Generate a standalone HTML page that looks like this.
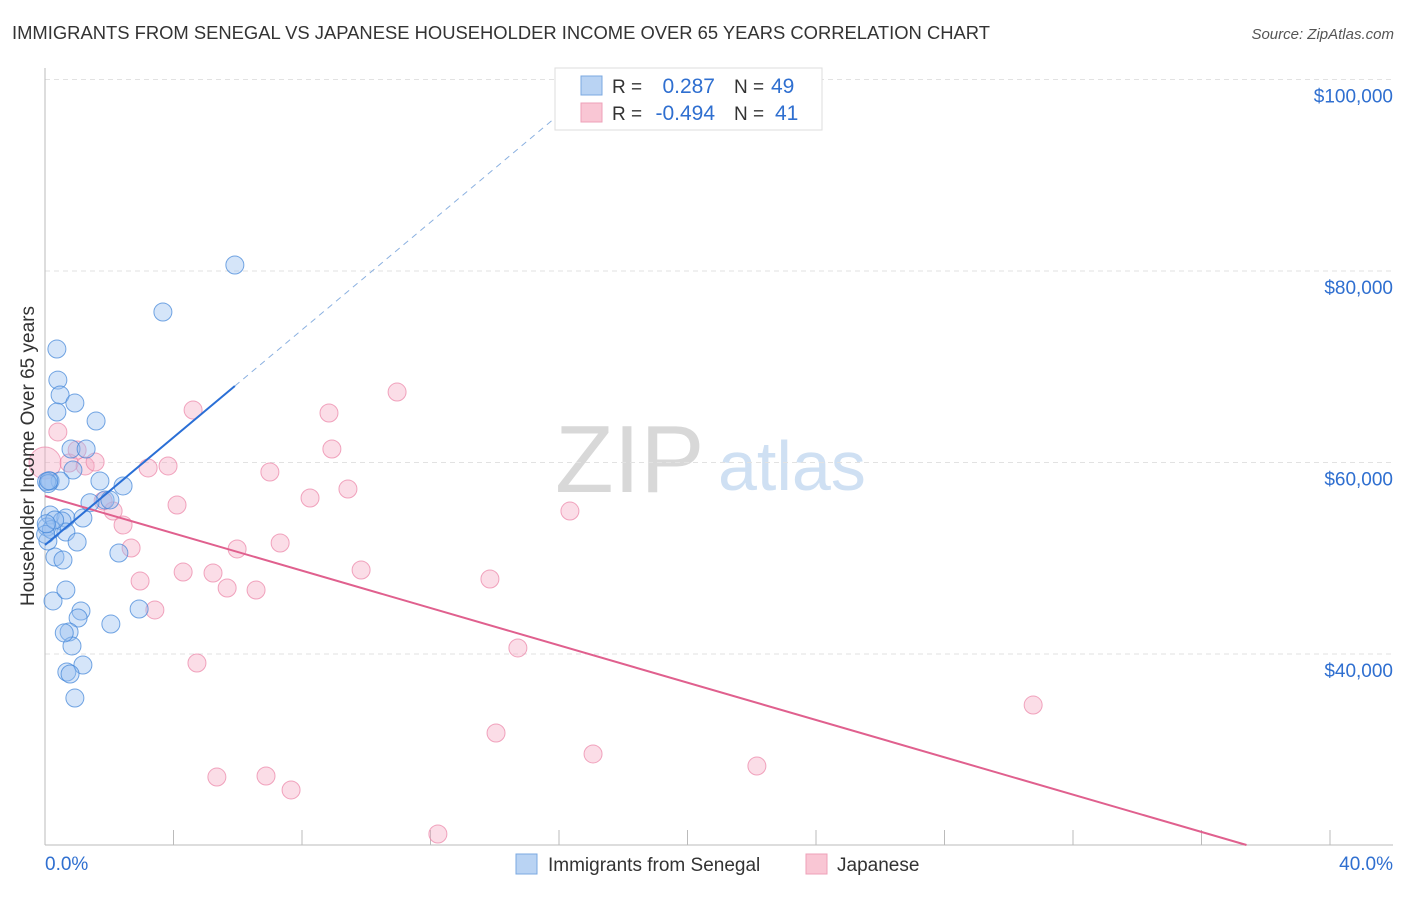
<!DOCTYPE html>
<html><head><meta charset="utf-8"><style>
body{margin:0;background:#fff;font-family:"Liberation Sans",sans-serif}
svg text{font-family:"Liberation Sans",sans-serif}
</style></head><body>
<svg width="1406" height="892" id="c" xmlns="http://www.w3.org/2000/svg">
<text x="12" y="39" font-size="18.4" fill="#333">IMMIGRANTS FROM SENEGAL VS JAPANESE HOUSEHOLDER INCOME OVER 65 YEARS CORRELATION CHART</text>
<text x="1394" y="39" font-size="15" fill="#555" font-style="italic" text-anchor="end">Source: ZipAtlas.com</text>
<text x="555" y="492" font-size="96" fill="#d8d8d8" font-family="Liberation Serif">ZIP</text>
<text x="718" y="490" font-size="70" fill="#cfe0f3">atlas</text>
<g id="grid"></g><g id="marks"></g>
<text transform="translate(34,456) rotate(-90)" font-size="19" fill="#333" text-anchor="middle">Householder Income Over 65 years</text>
<g>
<rect x="555" y="68" width="267" height="62" fill="#fff" stroke="#ddd"/>
<rect x="581" y="76" width="21" height="19" fill="#b9d3f3" stroke="#7ba8e0"/>
<rect x="581" y="103" width="21" height="19" fill="#f9c6d4" stroke="#eea0b8"/>
<text x="612" y="93" font-size="19" fill="#333">R =</text><text x="715" y="93" font-size="21" fill="#2f6fd0" text-anchor="end">0.287</text>
<text x="734" y="93" font-size="19" fill="#333">N =</text><text x="771" y="93" font-size="21" fill="#2f6fd0">49</text>
<text x="612" y="120" font-size="19" fill="#333">R =</text><text x="715" y="120" font-size="21" fill="#2f6fd0" text-anchor="end">-0.494</text>
<text x="734" y="120" font-size="19" fill="#333">N =</text><text x="775" y="120" font-size="21" fill="#2f6fd0">41</text>
</g>
<g>
<rect x="516" y="854" width="21" height="20" fill="#b9d3f3" stroke="#7ba8e0"/>
<text x="548" y="871" font-size="19" fill="#333">Immigrants from Senegal</text>
<rect x="806" y="854" width="21" height="20" fill="#f9c6d4" stroke="#eea0b8"/>
<text x="837" y="871" font-size="19" fill="#333">Japanese</text>
</g>
</svg>
<script>
const xTicks=[0,4,8,12,16,20,24,28,32,36,40];
const yTicks=[40000,60000,80000,100000];
const yTickLabels=["$40,000","$60,000","$80,000","$100,000"];
const senegalX=[5.91,3.67,0.37,0.40,0.47,0.37,0.93,1.59,0.81,1.28,0.87,0.16,0.47,1.71,2.43,1.87,2.02,0.16,0.65,1.18,0.53,0.06,0.65,0.09,1.00,2.30,0.31,0.56,0.25,0.65,1.12,1.03,0.75,2.05,2.93,0.84,1.18,0.68,0.78,0.93,0.05,0.10,0.20,0.02,0.30,1.40,0.12,0.60,0.04];
const senegalY=[80630,75720,71850,68610,67050,65270,66210,64330,61410,61410,59220,58070,58070,58070,57550,56080,56080,54520,54200,54200,53890,53260,52740,51800,51700,50550,50130,49820,45540,46680,44490,43760,42300,43130,44700,40840,38850,38120,37910,35400,58000,57800,53000,52500,54000,55800,58100,42200,53600];
const japanX=[0.0,0.40,4.61,10.96,8.84,8.93,0.75,1.25,1.56,3.21,3.83,7.00,9.43,8.25,1.81,4.11,2.12,16.34,2.43,2.68,7.32,5.98,9.84,4.30,5.23,2.96,13.85,5.67,6.57,3.42,14.72,4.73,30.76,14.04,17.06,22.16,5.35,6.88,7.66,12.23,1.0];
const japanY=[59950,63190,65480,67360,65170,61410,59950,59640,60050,59430,59640,59010,57230,56290,55980,55560,54930,54930,53470,51070,51590,50970,48770,48560,48460,47620,47830,46890,46680,44600,40630,39060,34670,31750,29560,28300,27150,27260,25800,21200,61300];
const senegalTrend=[51380,2810];
const japanTrend=[56500,-974.6];
const NS="http://www.w3.org/2000/svg";
const X=v=>45+v/40*1285, Y=v=>654-(v-40000)/104.44;
function mk(t,a,p){const e=document.createElementNS(NS,t);for(const k in a)e.setAttribute(k,a[k]);(p||document.getElementById('marks')).appendChild(e);return e;}
const g=document.getElementById('grid');
yTicks.forEach((v,i)=>{
 const l=mk('line',{x1:45,x2:1393,y1:Y(v),y2:Y(v),stroke:'#e2e2e2','stroke-dasharray':'5,4'},g);
 
 
 const t=mk('text',{x:1393,y:Y(v)+23,'font-size':19,fill:'#2f6fd0','text-anchor':'end'},g);t.textContent=yTickLabels[i];
 
 
});
mk('line',{x1:45,x2:45,y1:68,y2:845,stroke:'#bbb'},g);
mk('line',{x1:45,x2:1393,y1:845,y2:845,stroke:'#bbb'},g);
xTicks.forEach(v=>{const l=mk('line',{x1:X(v),x2:X(v),y1:830,y2:845,stroke:'#bbb'},g);
 
 });
let t=mk('text',{x:45,y:870,'font-size':19,fill:'#2f6fd0'},g);t.textContent='0.0%';


t=mk('text',{x:1393,y:870,'font-size':19,fill:'#2f6fd0','text-anchor':'end'},g);t.textContent='40.0%';


japanX.forEach((x,i)=>{const c=mk('circle',{cx:X(x),cy:Y(japanY[i]),r:i==0?16:9,fill:'rgba(246,170,195,0.4)',stroke:'rgba(235,130,165,0.7)','stroke-width':1});
 
 });
senegalX.forEach((x,i)=>{const c=mk('circle',{cx:X(x),cy:Y(senegalY[i]),r:9,fill:'rgba(150,190,240,0.4)',stroke:'rgba(60,130,215,0.7)','stroke-width':1});
 
 });
const f=(tr,x)=>tr[0]+tr[1]*x;
let l=mk('line',{x1:X(0),y1:Y(f(japanTrend,0)),x2:X(37.4),y2:Y(f(japanTrend,37.4)),stroke:'#e0608e','stroke-width':2});


l=mk('line',{x1:X(5.91),y1:Y(f(senegalTrend,5.91)),x2:X(16.6),y2:Y(f(senegalTrend,16.6)),stroke:'#8ab0e0','stroke-width':1,'stroke-dasharray':'6,5'});


l=mk('line',{x1:X(0),y1:Y(f(senegalTrend,0)),x2:X(5.91),y2:Y(f(senegalTrend,5.91)),stroke:'#2a6fd6','stroke-width':2});


</script>
</body></html>
